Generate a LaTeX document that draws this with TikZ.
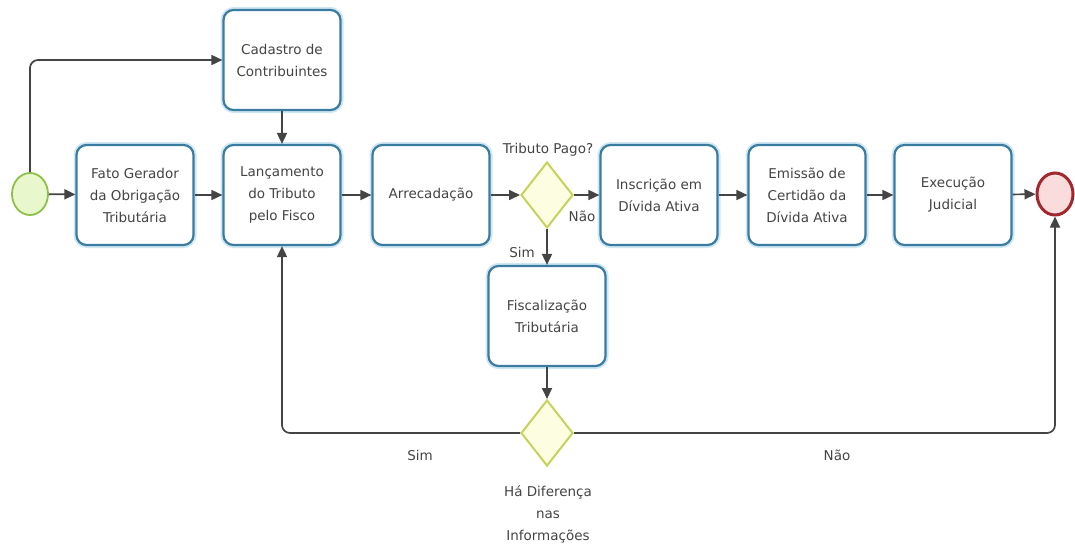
\documentclass[tikz,border=0pt]{standalone}
\usepackage{fontspec}
\setmainfont{DejaVu Sans}
\usetikzlibrary{shapes.geometric,arrows.meta}
\definecolor{boxline}{HTML}{3A7CA0}
\definecolor{boxglow}{HTML}{CFE7F3}
\definecolor{txt}{HTML}{444444}
\definecolor{conn}{HTML}{444444}
\definecolor{startfill}{HTML}{E9F8CC}
\definecolor{startline}{HTML}{8CC04A}
\definecolor{endfill}{HTML}{FBDCDC}
\definecolor{endline}{HTML}{A0282E}
\definecolor{gwfill}{HTML}{FDFDE2}
\definecolor{gwline}{HTML}{C6D25A}
\tikzset{
  task/.style={rectangle, rounded corners=10pt, draw=boxline, line width=2.2pt, fill=white,
    minimum width=117pt, minimum height=100pt, align=center, text=txt,
    font=\fontsize{13.5}{22}\selectfont,
    preaction={draw=boxglow, line width=6pt}},
  gw/.style={diamond, draw=gwline, fill=gwfill, line width=2pt, minimum width=52pt,
    minimum height=66pt, inner sep=0pt},
  lbl/.style={text=txt, font=\fontsize{13.5}{22}\selectfont, align=center},
  conn/.style={draw=conn, line width=1.7pt, -{Triangle[length=11pt,width=10pt]}, rounded corners=8pt},
}
\begin{document}
\begin{tikzpicture}[x=1pt,y=-1pt]
\useasboundingbox (0,0) rectangle (1075,550);
\node[ellipse, draw=startline, fill=startfill, line width=1.8pt, minimum width=36pt, minimum height=42pt, inner sep=0pt] (start) at (30,194) {};
\node[ellipse, draw=endline, fill=endfill, line width=3pt, minimum width=36pt, minimum height=42pt, inner sep=0pt] (end) at (1055,194) {};
\node[task] (fato) at (135,195) {Fato Gerador\\da Obrigação\\Tributária};
\node[task] (cad) at (282,60) {Cadastro de\\Contribuintes};
\node[task] (lanc) at (282,195) {Lançamento\\do Tributo\\pelo Fisco};
\node[task] (arrec) at (431,195) {Arrecadação};
\node[gw] (d1) at (547,195) {};
\node[task] (insc) at (659,195) {Inscrição em\\Dívida Ativa};
\node[task] (emis) at (807,195) {Emissão de\\Certidão da\\Dívida Ativa};
\node[task] (exec) at (953,195) {Execução\\Judicial};
\node[task] (fisc) at (547,316) {Fiscalização\\Tributária};
\node[gw] (d2) at (547,433) {};
\node[lbl] (t1) at (548,150) {Tributo Pago?};
\node[lbl] (t2) at (582,216) {Não};
\node[lbl] (t3) at (522,252) {Sim};
\node[lbl] (t4) at (420,455) {Sim};
\node[lbl] (t5) at (837,455) {Não};
\node[lbl] (t6) at (548,514) {Há Diferença\\nas\\Informações};
\draw[conn] (start) -- (fato);
\draw[conn] (start.north) |- (cad.west);
\draw[conn] (fato) -- (lanc);
\draw[conn] (cad) -- (lanc);
\draw[conn] (lanc) -- (arrec);
\draw[conn] (arrec) -- (d1);
\draw[conn] (d1) -- (insc);
\draw[conn] (insc) -- (emis);
\draw[conn] (emis) -- (exec);
\draw[conn] (exec) -- (end);
\draw[conn] (d1) -- (fisc);
\draw[conn] (fisc) -- (d2);
\draw[conn] (d2.west) -| (lanc.south);
\draw[conn] (d2.east) -| (end.south);
\end{tikzpicture}
\end{document}
